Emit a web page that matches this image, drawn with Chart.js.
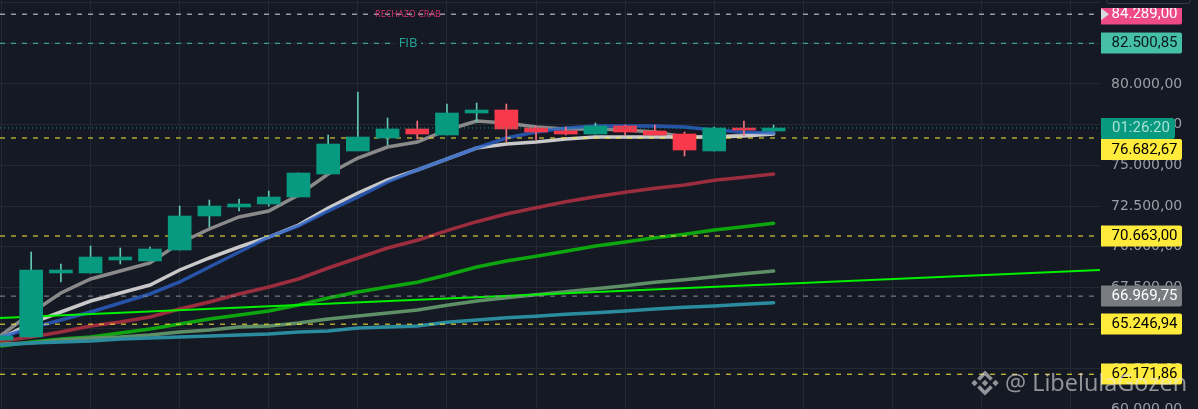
<!DOCTYPE html>
<html>
<head>
<meta charset="utf-8">
<style>
  html, body { margin: 0; padding: 0; background: #151924; }
  canvas { display: block; }
</style>
<script src="https://cdn.jsdelivr.net/npm/chart.js@4"></script>
</head>
<body>
<canvas id="btc" width="1198" height="409"></canvas>
<script>
// candles, index 0 is the cut off one at the left edge
const opens  = [64274,64458,68390,68390,69188,69127,69802,71891,72444,72628,73059,74471,75884,76683,77236,76867,78219,78403,77297,77113,76929,77420,77113,76929,75884,77297,77113];
const closes = [64520,68574,68574,69373,69373,69864,71891,72505,72628,73059,74533,76314,76744,77236,76929,78219,78403,77236,77051,76929,77420,77051,76867,75946,77297,77174,77297];
const highs  = [64520,69680,68943,70048,69925,69987,72505,72874,72936,73427,74533,76867,79509,77911,77727,78771,78833,78771,77420,77358,77604,77481,77481,77051,77358,77727,77481];
const lows   = [64274,64458,67837,68390,68943,69127,69802,71215,72198,72505,73059,74471,76253,76253,76621,76867,77666,76437,76560,76867,76929,76867,76867,75577,75884,76806,77113];

// moving averages
const emaGray  = [64581,65933,67161,68021,68513,69004,70233,71093,71830,72198,73181,74471,75454,76130,76437,77174,77727,77604,77359,77236,77236,77174,77051,76744,76744,76867,76990];
const emaWhite = [64397,65318,65994,66670,67161,67653,68574,69311,69987,70601,71338,72383,73304,74103,74717,75393,76068,76314,76437,76621,76744,76744,76744,76744,76744,76806,76928];
const emaBlue  = [64458,65011,65503,65994,66547,67100,67837,68758,69680,70601,71277,72198,73058,73980,74717,75393,76068,76683,77051,77297,77420,77420,77420,77358,77174,77051,76990];
const emaRed   = [64212,64458,64765,65134,65380,65687,66178,66608,67100,67530,68021,68697,69311,69925,70398,70988,71541,72014,72401,72770,73077,73347,73593,73796,74084,74269,74471];
const emaGreen = [63905,64151,64335,64458,64704,64950,65257,65564,65810,66055,66424,66854,67223,67530,67818,68267,68758,69127,69416,69723,70048,70294,70558,70767,71031,71234,71443];
const emaOlive = [64028,64090,64274,64397,64458,64581,64765,64888,65073,65134,65318,65564,65748,65933,66117,66405,66670,66872,67057,67241,67425,67610,67818,67978,68162,68347,68512];
const emaTeal  = [63967,64090,64151,64212,64335,64397,64458,64520,64581,64643,64765,64827,65011,65072,65134,65361,65503,65644,65730,65853,65951,66055,66178,66283,66363,66467,66565];

// the long trend ray, start and end of the plot
const rayX = [-0.05, 36.99];
const rayY = [65627, 68574];

const xStart = -0.05;
const xEnd = 36.99;
const xGrid = [0,3,6,9,12,15,18,21,24,27,30,33,36];
const yMin = 60035;
const yMax = 85160;
const yTicks = [60000,62500,65000,67500,70000,72500,75000,77500,80000,82500,85000];

const lastPrice = 77297;
const levels = [84289, 82500.85, 76682.67, 70663, 66969.75, 65246.94, 62171.86];
const levelColors = ['#d9dbe0', '#45bfa5', '#ffeb3b', '#ffeb3b', '#8a8d93', '#ffeb3b', '#ffeb3b'];
const levelLabels = ['84.289,00', '82.500,85', '76.682,67', '70.663,00', '66.969,75', '65.246,94', '62.171,86'];
const labelFills  = ['#ee4a85', '#45bfa5', '#ffeb3b', '#ffeb3b', '#787b80', '#ffeb3b', '#ffeb3b'];
const labelInks   = ['#ffffff', '#0b1a20', '#000000', '#000000', '#ffffff', '#000000', '#000000'];

const GREEN = '#089981';
const RED = '#f7394b';

function fmt(v) {
  return v.toLocaleString('de-DE', {minimumFractionDigits: 2, maximumFractionDigits: 2});
}

const idx = opens.map((_, i) => i);
const series = (arr) => arr.map((v, i) => ({x: i, y: v}));
const ema = (arr, color, order) => ({
  type: 'line', data: series(arr), borderColor: color, borderWidth: 3.5, borderCapStyle: 'round',
  pointRadius: 0, tension: 0, order: order
});

const datasets = [];
datasets.push(ema(emaTeal, '#2a8c9e', 10));
datasets.push(ema(emaOlive, '#5f8f66', 11));
datasets.push(ema(emaGreen, '#0ea60e', 12));
datasets.push(ema(emaRed, '#9c2d3f', 13));
datasets.push(ema(emaBlue, 'rgba(42,98,200,0.8)', 14));
datasets.push(ema(emaWhite, '#c9c9c9', 15));
datasets.push(ema(emaGray, '#8a8a8a', 16));
datasets.push({
  type: 'line', data: rayX.map((x, i) => ({x: x, y: rayY[i]})),
  borderColor: '#00f000', borderWidth: 2, pointRadius: 0, order: 9
});
levels.forEach((v, i) => {
  datasets.push({
    type: 'line', data: [{x: xStart, y: v}, {x: xEnd, y: v}],
    borderColor: levelColors[i], borderWidth: 1, borderDash: [5, 6], pointRadius: 0, order: 5
  });
});
datasets.push({
  type: 'bar', data: idx.map(i => ({x: i, y: [lows[i], highs[i]]})),
  backgroundColor: idx.map(i => closes[i] >= opens[i] ? '#62c7b0' : '#f9707c'),
  barThickness: 1, grouped: false, order: 3
});
datasets.push({
  type: 'bar', data: idx.map(i => ({x: i, y: [opens[i], closes[i]]})),
  backgroundColor: idx.map(i => closes[i] >= opens[i] ? GREEN : RED),
  barThickness: 23, grouped: false, order: 2
});
datasets.push({
  type: 'line', data: [{x: xStart, y: lastPrice}, {x: xEnd, y: lastPrice}],
  borderColor: GREEN, borderWidth: 1, borderDash: [1, 3], pointRadius: 0, order: 1
});

// price tags, notes on the lines and the watermark
const overlay = {
  id: 'overlay',
  afterDraw(chart) {
    const c = chart.ctx;
    const y = chart.scales.y;
    c.save();
    c.textBaseline = 'middle';

    // line notes
    c.font = '9px "Open Sans"';
    c.fillStyle = '#d8346f';
    c.textAlign = 'center';
    c.fillText('RECHAZO CRAB', 408, y.getPixelForValue(levels[0]));
    c.fillStyle = '#151924';
    c.fillRect(396, y.getPixelForValue(levels[1]) - 6, 25, 12);
    c.font = '13px "Open Sans"';
    c.fillStyle = '#26a69a';
    c.fillText('FIB', 408, y.getPixelForValue(levels[1]));

    // tags, the 76.682 one sits under the countdown
    c.font = '15px Roboto';
    c.textAlign = 'right';
    levels.forEach((v, i) => {
      const py = Math.round(y.getPixelForValue(v)) + (i === 2 ? 11.5 : 0);
      c.fillStyle = labelFills[i];
      c.beginPath();
      c.roundRect(1101, py - 10.5, 81, 21, [0, 2, 2, 0]);
      c.fill();
      c.fillStyle = labelInks[i];
      c.fillText(levelLabels[i], 1177.5, py + 0.5);
    });

    // box over the top of the axis
    c.fillStyle = '#151924';
    c.fillRect(1101, 0, 97, 8);
    c.strokeStyle = '#3a3e49';
    c.beginPath();
    c.roundRect(1106.5, -10, 84, 13.5, 3);
    c.stroke();
    c.fillStyle = '#d9dbe0';
    const topY = y.getPixelForValue(levels[0]);
    c.beginPath();
    c.moveTo(1101, topY - 6);
    c.lineTo(1109, topY);
    c.lineTo(1101, topY + 6);
    c.fill();

    // countdown
    const py = Math.round(y.getPixelForValue(lastPrice));
    c.fillStyle = GREEN;
    c.beginPath();
    c.roundRect(1101, py - 10, 74, 21, [0, 3, 3, 0]);
    c.fill();
    c.fillStyle = '#a8e0d2';
    c.textAlign = 'left';
    c.fillText('01:26:20', 1112, py + 0.5);

    // watermark
    c.globalAlpha = 0.6;
    c.fillStyle = '#e8e8e8';
    c.font = '23.5px "Open Sans"';
    c.fillText('@ LibelulaGozen', 1005, 384);
    const cx = 985, cy = 383;
    c.translate(cx, cy);
    c.strokeStyle = '#e8e8e8';
    c.lineWidth = 3.6;
    [-1, 1].forEach(s => {
      c.beginPath();
      c.moveTo(-6.5, s * 3.5);
      c.lineTo(0, s * 10);
      c.lineTo(6.5, s * 3.5);
      c.stroke();
    });
    [[-10.5, 0], [10.5, 0], [0, 0]].forEach(d => {
      c.beginPath();
      c.moveTo(d[0] - 3.2, d[1]);
      c.lineTo(d[0], d[1] - 3.2);
      c.lineTo(d[0] + 3.2, d[1]);
      c.lineTo(d[0], d[1] + 3.2);
      c.fill();
    });
    c.restore();
  }
};

new Chart(document.getElementById('btc'), {
  data: {datasets: datasets},
  options: {
    responsive: false,
    animation: false,
    devicePixelRatio: 1,
    layout: {padding: 0},
    plugins: {legend: {display: false}, tooltip: {enabled: false}},
    scales: {
      x: {
        type: 'linear', min: xStart, max: xEnd, display: true, offset: false,
        afterBuildTicks: (s) => { s.ticks = xGrid.map(v => ({value: v})); },
        afterFit: (s) => { s.height = 0; s.paddingLeft = 0; s.paddingRight = 0; },
        grid: {color: '#242832', drawTicks: false, offset: false},
        border: {display: false},
        ticks: {display: false}
      },
      y: {
        type: 'linear', position: 'right', min: yMin, max: yMax, offset: false,
        afterBuildTicks: (s) => { s.ticks = yTicks.map(v => ({value: v})); },
        afterFit: (s) => { s.width = 98; s.paddingTop = 0; s.paddingBottom = 0; },
        grid: {color: '#242832', drawTicks: false},
        border: {display: false},
        ticks: {
          color: '#9a9ea6', padding: 11, autoSkip: false,
          font: {family: 'DejaVu Sans', size: 14},
          callback: (v) => fmt(v)
        }
      }
    }
  },
  plugins: [overlay]
});
</script>
</body>
</html>
